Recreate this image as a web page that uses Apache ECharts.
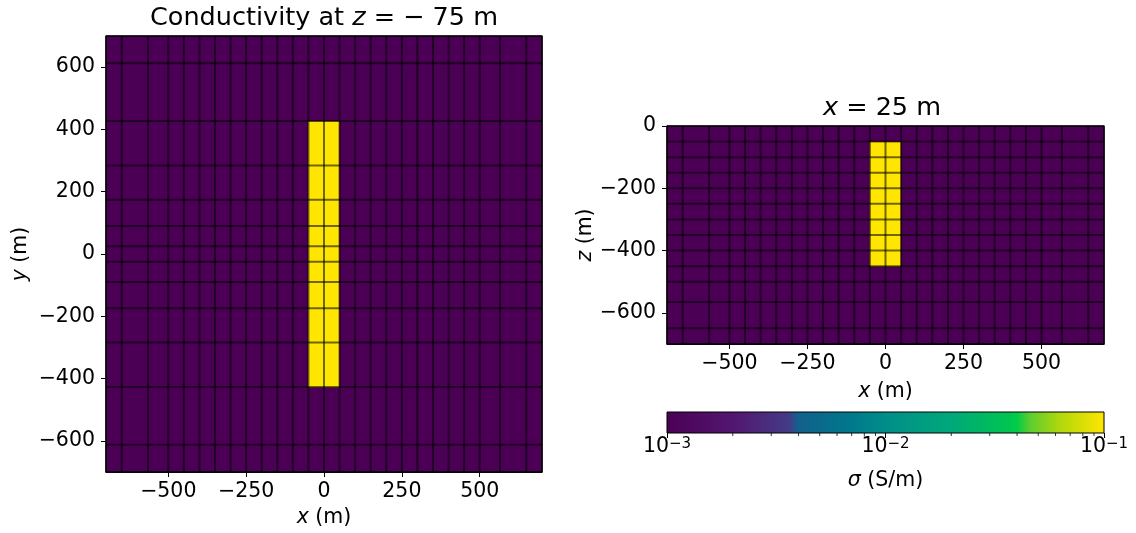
<!DOCTYPE html>
<html>
<head>
<meta charset="utf-8">
<script src="https://cdn.jsdelivr.net/npm/echarts@6/dist/echarts.min.js"></script>
<style>
  html, body { margin: 0; padding: 0; background: #fff; }
  #main { width: 1136px; height: 533px; }
</style>
</head>
<body>
<div id="main"></div>
<script>
// tensor mesh cell edges (m), clipped to the plotted window
var xEdges = [-700, -649.5, -565, -500, -450, -400, -350, -300, -250, -200, -150, -100, -50, 0,
  50, 100, 150, 200, 250, 300, 350, 400, 450, 500, 565, 649.5, 700];
var yEdges = [-700, -612.8, -427.2, -284.4, -174.5, -90, -25, 25, 90, 174.5, 284.4, 427.2, 612.8, 700];
var zEdges = [-700, -649.5, -565, -500, -450, -400, -350, -300, -250, -200, -150, -100, -50, 0];

// conductivity model (S/m)
var sigmaBackground = 1e-3;
var sigmaBlock = 1e-1;
var blockX = [-50, 50];
var blockY = [-427.2, 427.2];
var blockZ = [-450, -50];

// axis ticks
var xTicks = [-500, -250, 0, 250, 500];
var yTicks = [-600, -400, -200, 0, 200, 400, 600];
var zTicks = [-600, -400, -200, 0];
var cbarTicks = [-3, -2, -1];          // log10(sigma)
var cbarMinorMult = [2, 3, 4, 5, 6, 7, 8, 9];

// colour map (viridis-like, as printed)
var cmapStops = [
  [0, '#4b0055'], [0.15, '#521670'], [0.28, '#443b86'], [0.30, '#12608c'],
  [0.42, '#00788c'], [0.5, '#008e8a'], [0.65, '#00a87a'], [0.78, '#00c452'],
  [0.80, '#00cc46'], [0.83, '#5ecc30'], [0.9, '#b2d80c'], [1, '#ffe600']
];

var FONT = 'DejaVu Sans';

function buildCells(hEdges, vEdges, hBlock, vBlock) {
  var out = [];
  for (var i = 0; i < hEdges.length - 1; i++) {
    for (var j = 0; j < vEdges.length - 1; j++) {
      var h0 = hEdges[i], h1 = hEdges[i + 1], v0 = vEdges[j], v1 = vEdges[j + 1];
      var inside = h0 >= hBlock[0] - 1e-6 && h1 <= hBlock[1] + 1e-6 &&
                   v0 >= vBlock[0] - 1e-6 && v1 <= vBlock[1] + 1e-6;
      out.push([h0, h1, v0, v1, Math.log10(inside ? sigmaBlock : sigmaBackground)]);
    }
  }
  return out;
}

function renderCell(params, api) {
  var a = api.coord([api.value(0), api.value(3)]);
  var b = api.coord([api.value(1), api.value(2)]);
  return {
    type: 'rect',
    shape: { x: a[0] - 0.3, y: a[1] - 0.3, width: b[0] - a[0] + 0.6, height: b[1] - a[1] + 0.6 },
    style: { fill: api.visual('color') }
  };
}

function lineItems(hEdges, vEdges) {
  var d = [];
  hEdges.forEach(function (v) { d.push([v, 0]); });
  vEdges.forEach(function (v) { d.push([v, 1]); });
  d.push([0, 2]);
  return d;
}

function lineRenderer(hEdges, vEdges) {
  var h0 = hEdges[0], h1 = hEdges[hEdges.length - 1];
  var v0 = vEdges[0], v1 = vEdges[vEdges.length - 1];
  return function (params, api) {
    var v = api.value(0), kind = api.value(1), p, q;
    if (kind === 2) {
      p = api.coord([h0, v1]); q = api.coord([h1, v0]);
      return {
        type: 'rect', z2: 10,
        shape: { x: p[0], y: p[1], width: q[0] - p[0], height: q[1] - p[1] },
        style: { fill: 'none', stroke: '#000', lineWidth: 1.2 }
      };
    }
    if (kind === 0) { p = api.coord([v, v0]); q = api.coord([v, v1]); }
    else { p = api.coord([h0, v]); q = api.coord([h1, v]); }
    return {
      type: 'line',
      shape: { x1: p[0], y1: p[1], x2: q[0], y2: q[1] },
      style: { stroke: 'rgba(0,0,0,0.56)', lineWidth: 2 }
    };
  };
}

function minus(v) { return String(v).replace('-', '\u2212'); }

function axis(gridIndex, min, max, ticks, name, nameGap, isY) {
  return {
    type: 'value', gridIndex: gridIndex, min: min, max: max,
    axisLine: { show: true, onZero: false, lineStyle: { color: '#000', width: 1 } },
    axisTick: { show: true, customValues: ticks, length: 5, lineStyle: { color: '#000', width: 1 } },
    axisLabel: {
      customValues: ticks, fontSize: 20.5, fontFamily: FONT, color: '#000',
      margin: isY ? 11 : 9, formatter: minus
    },
    splitLine: { show: false },
    name: name, nameLocation: 'middle', nameGap: nameGap,
    nameTextStyle: {
      fontSize: 20.5, fontFamily: FONT, color: '#000',
      rich: { i: { fontSize: 20.5, fontFamily: FONT, fontStyle: 'italic', color: '#000' } }
    }
  };
}

var leftCells = buildCells(xEdges, yEdges, blockX, blockY);
var rightCells = buildCells(xEdges, zEdges, blockX, blockZ);

var minorTicks = [];
cbarTicks.slice(0, -1).forEach(function (n) {
  cbarMinorMult.forEach(function (k) { minorTicks.push([n + Math.log10(k), 0]); });
});

var chart = echarts.init(document.getElementById('main'));

var option = {
  backgroundColor: '#fff',
  animation: false,
  grid: [
    { left: 106, top: 36, width: 436, height: 436 },
    { left: 667, top: 126, width: 437, height: 218 },
    { left: 667, top: 412, width: 437, height: 21 }
  ],
  xAxis: [
    axis(0, -700, 700, xTicks, '{i|x} (m)', 31, false),
    axis(1, -700, 700, xTicks, '{i|x} (m)', 37, false),
    {
      type: 'value', gridIndex: 2, min: -3, max: -1,
      axisLine: { show: false, onZero: false },
      axisTick: { show: true, customValues: cbarTicks, length: 5, lineStyle: { color: '#000' } },
      axisLabel: {
        customValues: cbarTicks, margin: 4, color: '#000',
        formatter: function (v) { return '{b|10}{s|' + minus(v) + '}'; },
        rich: {
          b: { fontSize: 20.5, lineHeight: 20, fontFamily: FONT, color: '#000', verticalAlign: 'bottom' },
          s: { fontSize: 15, lineHeight: 14, fontFamily: FONT, color: '#000', verticalAlign: 'top', padding: [0, 0, 9, 0] }
        }
      },
      splitLine: { show: false },
      name: '{i|\u03c3} (S/m)', nameLocation: 'middle', nameGap: 37,
      nameTextStyle: {
        fontSize: 20.5, fontFamily: FONT, color: '#000',
        rich: { i: { fontSize: 20.5, fontFamily: FONT, fontStyle: 'italic', color: '#000' } }
      }
    }
  ],
  yAxis: [
    axis(0, -700, 700, yTicks, '{i|y} (m)', 75, true),
    axis(1, -700, 0, zTicks, '{i|z} (m)', 71, true),
    { type: 'value', gridIndex: 2, min: 0, max: 1, show: false }
  ],
  visualMap: {
    type: 'continuous', show: false, dimension: 4, min: -3, max: -1,
    seriesIndex: [0, 2],
    inRange: { color: cmapStops.map(function (s) { return s[1]; }) }
  },
  graphic: [
    {
      type: 'text', x: 324, y: 18,
      style: {
        text: '{n|Conductivity at }{i|z}{n| = \u2212 75 m}',
        align: 'center', verticalAlign: 'middle',
        rich: {
          n: { fontSize: 25.5, fontFamily: FONT, fill: '#000' },
          i: { fontSize: 25.5, fontFamily: FONT, fontStyle: 'italic', fill: '#000' }
        }
      }
    },
    {
      type: 'text', x: 882, y: 108,
      style: {
        text: '{i|x}{n| = 25 m}',
        align: 'center', verticalAlign: 'middle',
        rich: {
          n: { fontSize: 25.5, fontFamily: FONT, fill: '#000' },
          i: { fontSize: 25.5, fontFamily: FONT, fontStyle: 'italic', fill: '#000' }
        }
      }
    }
  ],
  series: [
    {
      type: 'custom', name: 'plan', xAxisIndex: 0, yAxisIndex: 0,
      data: leftCells, renderItem: renderCell, clip: false,
      encode: { x: [0, 1], y: [2, 3] }
    },
    {
      type: 'custom', name: 'plan mesh', xAxisIndex: 0, yAxisIndex: 0, z: 3,
      data: lineItems(xEdges, yEdges), renderItem: lineRenderer(xEdges, yEdges), clip: false
    },
    {
      type: 'custom', name: 'section', xAxisIndex: 1, yAxisIndex: 1,
      data: rightCells, renderItem: renderCell, clip: false,
      encode: { x: [0, 1], y: [2, 3] }
    },
    {
      type: 'custom', name: 'section mesh', xAxisIndex: 1, yAxisIndex: 1, z: 3,
      data: lineItems(xEdges, zEdges), renderItem: lineRenderer(xEdges, zEdges), clip: false
    },
    {
      type: 'custom', name: 'colorbar', xAxisIndex: 2, yAxisIndex: 2, clip: false,
      data: [[-3, -1]],
      renderItem: function (params, api) {
        var a = api.coord([api.value(0), 1]);
        var b = api.coord([api.value(1), 0]);
        return {
          type: 'rect',
          shape: { x: a[0], y: a[1], width: b[0] - a[0], height: b[1] - a[1] },
          style: {
            fill: {
              type: 'linear', x: 0, y: 0, x2: 1, y2: 0,
              colorStops: cmapStops.map(function (s) { return { offset: s[0], color: s[1] }; })
            },
            stroke: '#000', lineWidth: 1
          }
        };
      }
    },
    {
      type: 'custom', name: 'colorbar minor ticks', xAxisIndex: 2, yAxisIndex: 2, clip: false,
      data: minorTicks,
      renderItem: function (params, api) {
        var p = api.coord([api.value(0), 0]);
        return {
          type: 'line',
          shape: { x1: p[0], y1: p[1], x2: p[0], y2: p[1] + 3 },
          style: { stroke: '#000', lineWidth: 0.8 }
        };
      }
    }
  ]
};

chart.setOption(option);
</script>
</body>
</html>
